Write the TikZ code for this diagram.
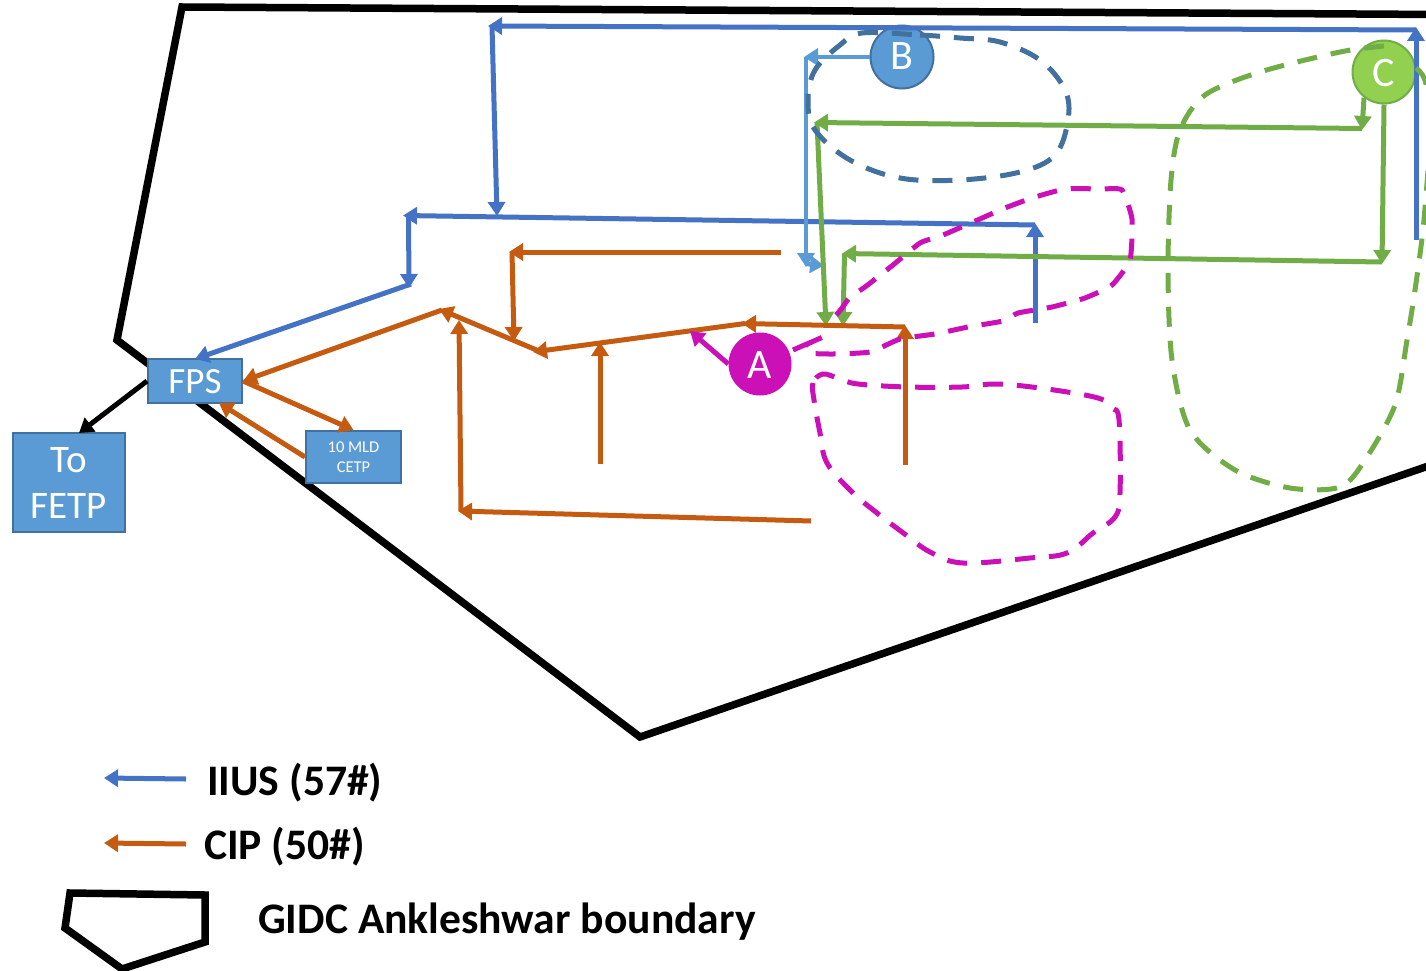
\documentclass[tikz,border=0pt]{standalone}
\usepackage{fontspec}
\setmainfont{Carlito}
\usetikzlibrary{arrows.meta}
\definecolor{iius}{HTML}{4472C4}
\definecolor{lblue}{HTML}{5B9BD5}
\definecolor{dblue}{HTML}{41719C}
\definecolor{cip}{HTML}{C55A11}
\definecolor{grn}{HTML}{70AD47}
\definecolor{lgrn}{HTML}{92D050}
\definecolor{mag}{HTML}{CC10B8}
\newcommand{\lowered}[2]{\raisebox{-#1pt}[0pt][0pt]{#2}}
\tikzset{
  flow/.style={line width=5pt,line join=miter,-{Triangle[length=14pt,width=17pt]}},
  iiusline/.style={flow,color=iius},
  bline/.style={flow,color=lblue,line width=4.5pt},
  cipline/.style={flow,color=cip},
  grnline/.style={flow,color=grn},
  magline/.style={flow,color=mag},
  blackline/.style={flow,color=black},
  boundary/.style={draw=black,line width=7.5pt,line join=miter},
  box/.style={rectangle,draw=dblue,line width=2pt,fill=lblue,text=white,inner sep=0pt,align=center},
  spot/.style={circle,inner sep=0pt,minimum size=63pt,text=white,font=\fontsize{42}{42}\selectfont},
  zone/.style={line width=5pt,dash pattern=on 20pt off 14pt},
  legendtext/.style={anchor=west,inner sep=0pt,font=\fontsize{43.6}{46}\bfseries\selectfont}
}
\begin{document}
\begin{tikzpicture}[x=1pt,y=-1pt]
\clip (0,0) rectangle (1426,971);
\fill[white] (0,0) rectangle (1426,971);
% boundary
\draw[boundary] (1440,14.5) -- (182,7) -- (117,340) -- (640,737) -- (1440,462);
% boxes
\node[box,minimum width=94pt,minimum height=44pt,font=\fontsize{37}{38}\selectfont] (fps) at (195,381) {\lowered{12}{FPS}};
\node[box,minimum width=112pt,minimum height=99pt,font=\fontsize{39}{46}\selectfont] (fetp) at (69,482.5) {To\\FETP};
\node[box,minimum width=95pt,minimum height=52pt,font=\fontsize{16.5}{20}\selectfont] (cetp) at (353.5,457) {10 MLD\\CETP};
\node[spot,fill=mag] (a) at (760,364) {\lowered{14}{A}};
\node[spot,fill=lblue,draw=dblue,line width=2pt] (b) at (902,57) {\lowered{13}{B}};
\node[spot,fill=lgrn,draw=grn,line width=2pt] (c) at (1384,72) {\lowered{15}{C}};
% routing points
\coordinate (i0) at (1416,240);
\coordinate (i1) at (1416,27);
\coordinate (i1b) at (1416,30);
\coordinate (i2) at (488,26);
\coordinate (i2b) at (492,26);
\coordinate (i3) at (497,216);
\coordinate (i4) at (1035,323);
\coordinate (i5) at (1035,223);
\coordinate (i5b) at (1035,225);
\coordinate (i6) at (403,215.5);
\coordinate (i6b) at (408.5,215.5);
\coordinate (i7) at (409,288);
\coordinate (i8) at (411,284);
\coordinate (i9) at (195,359);
\coordinate (l1) at (804,57);
\coordinate (l1b) at (806,57);
\coordinate (l2) at (806,267);
\coordinate (l2b) at (806,264);
\coordinate (l3) at (824,265.5);
\coordinate (g1) at (1362,130);
\coordinate (g1b) at (1362,128.5);
\coordinate (g2) at (814,122.5);
\coordinate (g2b) at (817,122.5);
\coordinate (g3) at (826,326);
\coordinate (g4) at (1382,264);
\coordinate (g4b) at (1382,262);
\coordinate (g5) at (842,253.5);
\coordinate (g5b) at (844.5,253.5);
\coordinate (g6) at (843,326);
\coordinate (o1) at (905,465);
\coordinate (o2) at (905,325);
\coordinate (o2b) at (905,327);
\coordinate (o3) at (742,323.5);
\coordinate (o3b) at (745,323.5);
\coordinate (o4) at (533,352);
\coordinate (o5) at (781,252);
\coordinate (o6) at (509,252);
\coordinate (o6b) at (512,252);
\coordinate (o7) at (514,341);
\coordinate (o8) at (600,464);
\coordinate (o9) at (600,342);
\coordinate (o10) at (811,521);
\coordinate (o11) at (458,511);
\coordinate (o11b) at (461,511);
\coordinate (o12) at (459,320);
\coordinate (o13) at (546,354);
\coordinate (o14) at (439,309);
\coordinate (o14b) at (442,310);
\coordinate (o15) at (219,403);
\coordinate (m1) at (690,331);
\coordinate (k1) at (79,433);
% IIUS
\draw[iiusline] (i0) -- (i1);
\draw[iiusline] (i1b) -- (i2);
\draw[iiusline] (i2b) -- (i3);
\draw[iiusline] (i4) -- (i5);
\draw[iiusline] (i5b) -- (i6);
\draw[iiusline] (i6b) -- (i7);
\draw[iiusline] (i8) -- (i9);
% light blue
\draw[bline] (b.west) -- (l1);
\draw[bline] (l1b) -- (l2);
\draw[bline] (l2b) -- (l3);
% green
\draw[grnline] (c.232) -- (g1);
\draw[grnline] (g1b) -- (g2);
\draw[grnline] (g2b) -- (g3);
\draw[grnline] (c.south) -- (g4);
\draw[grnline] (g4b) -- (g5);
\draw[grnline] (g5b) -- (g6);
% CIP
\draw[cipline] (o1) -- (o2);
\draw[cipline] (o2b) -- (o3);
\draw[cipline] (o3b) -- (o4);
\draw[cipline] (o5) -- (o6);
\draw[cipline] (o6b) -- (o7);
\draw[cipline] (o8) -- (o9);
\draw[cipline] (o10) -- (o11);
\draw[cipline] (o11b) -- (o12);
\draw[cipline] (o13) -- (o14);
\draw[cipline] (o14b) -- (fps.east);
\draw[cipline] (fps.east) -- (cetp.north);
\draw[cipline] (cetp.west) -- (o15);
% A, black
\draw[magline] (a.west) -- (m1);
\draw[blackline] (fps.west) -- (k1);
% dashed zones
\draw[zone,color=dblue] plot[smooth cycle,tension=0.6] coordinates {(862,33) (920,35) (960,38) (1000,42) (1040,60) (1065,90) (1068,120) (1055,155) (1020,172) (960,180) (900,178) (850,160) (815,130) (808,100) (815,70) (840,45)};
\draw[zone,color=grn] plot[smooth,tension=0.5] coordinates {(1384,46) (1340,52) (1260,72) (1205,95) (1180,130) (1171,180) (1168,270) (1172,360) (1190,430) (1235,470) (1290,488) (1340,487) (1365,460) (1395,405) (1407,340) (1415,290) (1423,230) (1428,170)};
\draw[zone,color=grn] plot[smooth,tension=0.6] coordinates {(1416,68) (1425,80) (1430,110)};
\draw[zone,color=mag] plot[smooth,tension=0.3] coordinates {(793,350) (823,337) (806,345) (808,353) (833,354) (870,352) (900,339) (935,334) (968,327) (1003,321) (1018,313) (1052,307) (1085,298) (1112,285) (1130,260) (1132,219) (1122,190) (1102,189) (1065,189) (1032,198) (1005,208) (973,222) (943,235) (920,243) (893,265) (865,287) (850,297) (842,308) (830,323)};
\draw[zone,color=mag] plot[smooth cycle,tension=0.6] coordinates {(823,374) (813,383) (814,400) (820,433) (827,463) (852,492) (877,513) (902,532) (930,552) (963,563) (1030,558) (1067,553) (1093,533) (1115,517) (1120,493) (1119,420) (1112,408) (1098,398) (1047,389) (997,384) (962,387) (907,387) (858,384) (840,379)};
% legend
\coordinate (la1) at (186,779);
\coordinate (la2) at (104,778);
\coordinate (lb1) at (186,844);
\coordinate (lb2) at (104,843);
\draw[iiusline] (la1) -- (la2);
\draw[cipline] (lb1) -- (lb2);
\node[legendtext] (t1) at (207,783) {IIUS (57\#)};
\node[legendtext] (t2) at (204,847) {CIP (50\#)};
\node[legendtext] (t3) at (258,922) {GIDC Ankleshwar boundary};
\draw[boundary] (70,893) -- (205,895) -- (205,942) -- (122,969) -- (65,928) -- cycle;
\end{tikzpicture}
\end{document}
